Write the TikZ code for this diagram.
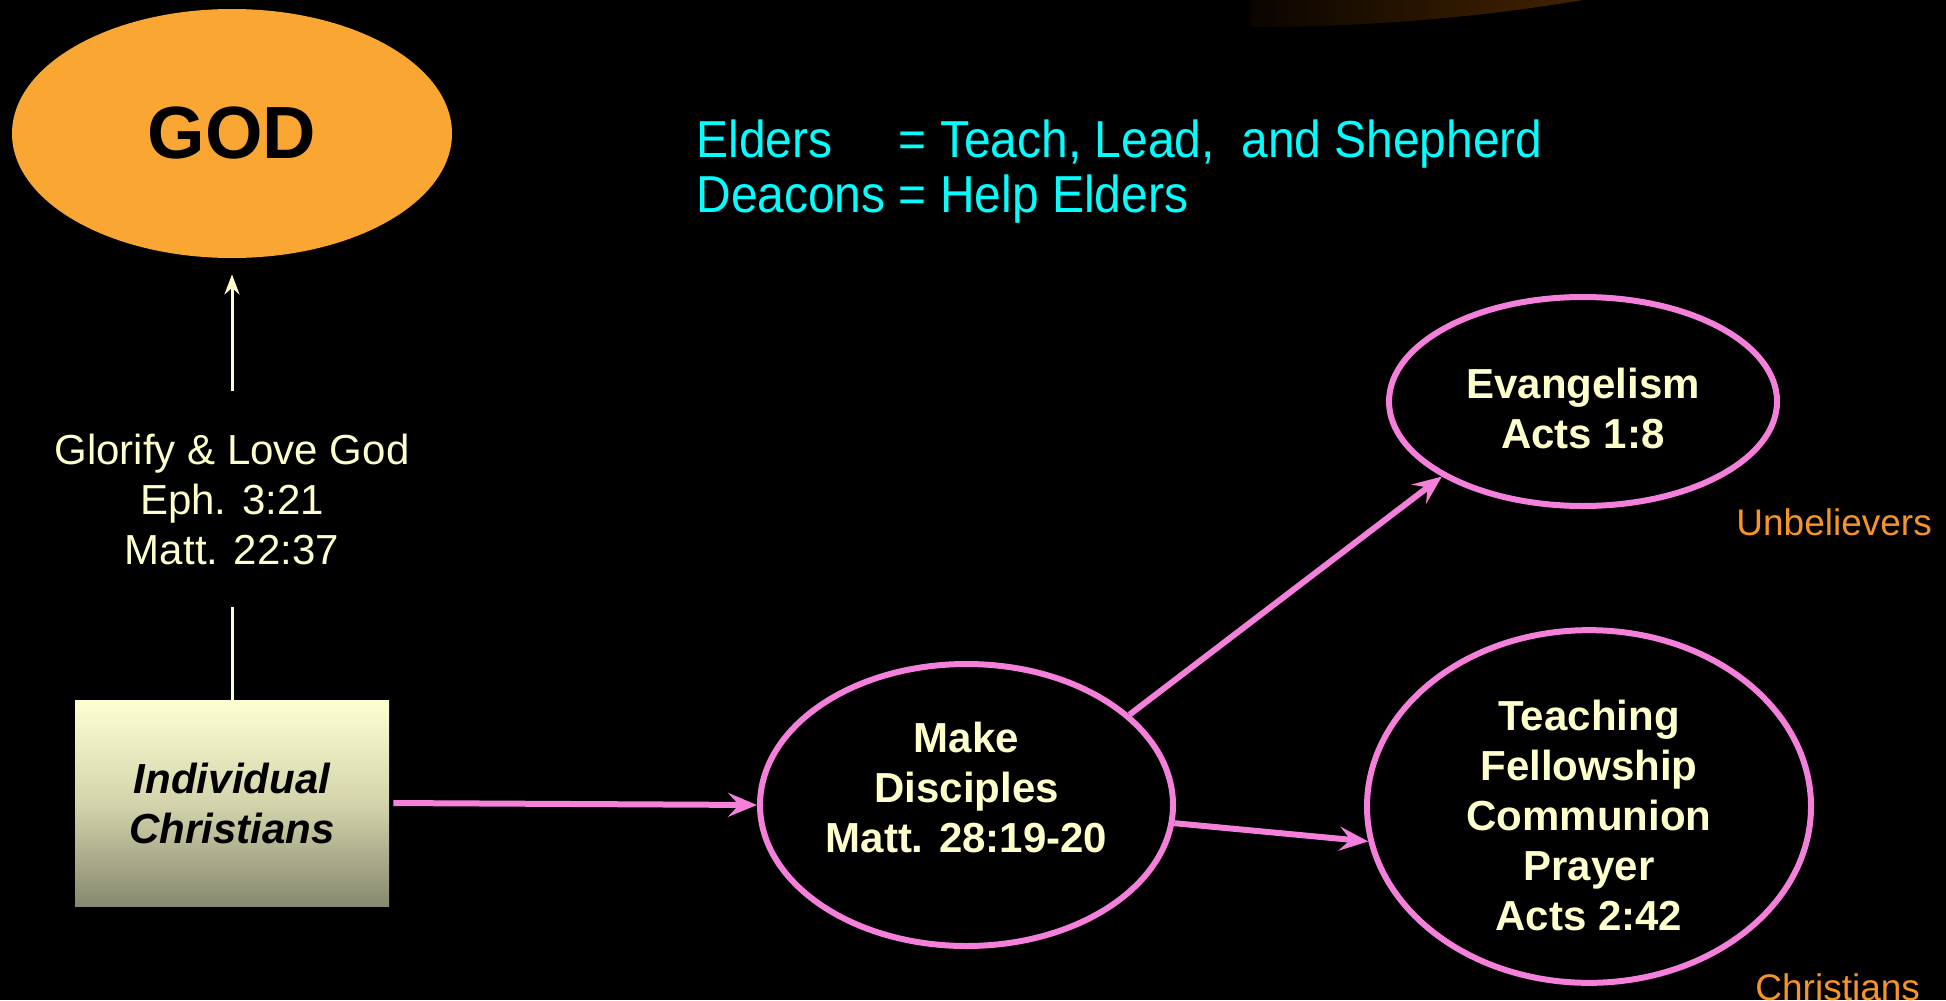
\documentclass[tikz,border=0pt]{standalone}
\usepackage{fontspec}
\setmainfont{Liberation Sans}
\newfontfamily\narrowfont[FakeStretch=0.922]{Liberation Sans}
\usetikzlibrary{shapes.geometric,arrows.meta}
\definecolor{godorange}{RGB}{249,166,51}
\definecolor{cream}{RGB}{255,255,204}
\definecolor{pinkline}{RGB}{245,128,220}
\definecolor{aqua}{RGB}{0,255,255}
\definecolor{lblorange}{RGB}{245,148,40}
\definecolor{boxtop}{RGB}{255,255,212}
\definecolor{boxmid}{RGB}{212,212,172}
\definecolor{boxbot}{RGB}{136,136,112}
\definecolor{glowdark}{RGB}{10,4,0}
\definecolor{glowlight}{RGB}{70,37,0}
\tikzset{
  godell/.style={ellipse, fill=godorange, minimum width=220pt, minimum height=124.5pt, inner sep=0pt,
    font=\fontsize{37pt}{40pt}\selectfont\bfseries, text=black},
  gtext/.style={align=center, inner xsep=0pt, inner ysep=21pt, text=cream,
    font=\fontsize{21pt}{25pt}\selectfont},
  ibox/.style={rectangle, minimum width=157pt, minimum height=103pt, inner sep=0pt,
    top color=boxtop, bottom color=boxbot, middle color=boxmid, align=center,
    font=\fontsize{21pt}{25pt}\selectfont\bfseries\itshape, text=black},
  pinkell/.style={ellipse, draw=pinkline, line width=3pt, inner sep=0pt, align=center, text=cream,
    font=\fontsize{21pt}{25pt}\selectfont\bfseries},
  creamline/.style={draw=cream, line width=1.5pt},
  pinkarrow/.style={draw=pinkline, line width=3pt, -{Stealth[length=14.5pt,width=12pt,inset=5.5pt]}},
  lbl/.style={text=lblorange, inner sep=0pt, font=\fontsize{18.5pt}{22pt}\selectfont},
  office/.style={text=aqua, inner sep=0pt, font=\narrowfont\fontsize{26pt}{27.5pt}\selectfont}
}
\begin{document}
\begin{tikzpicture}[x=0.5pt,y=-0.5pt]
\useasboundingbox (0,0) rectangle (1946,1000);
\fill[black] (0,0) rectangle (1946,1000);
% dim glow at the top
\begin{scope}
  \clip (1249,0) rectangle (1946,60);
  \clip (1249,-270) ellipse [x radius=800, y radius=297];
  \shade[left color=glowdark, right color=glowlight] (1249,-5) rectangle (1600,40);
\end{scope}

\node[godell] (god) at (232,133.5) {GOD};
\node[gtext] (glor) at (232,499) {Glorify \& Love God\\Eph. 3:21\\Matt. 22:37};
\node[ibox] (ind) at (232,803) {Individual\\Christians};

\node[pinkell, minimum width=206.5pt, minimum height=141pt, text depth=18pt] (make) at (966.5,805)
  {Make\\Disciples\\Matt. 28:19-20};
\node[pinkell, minimum width=194pt, minimum height=104.5pt, text height=47.5pt] (evan) at (1583,401.5)
  {Evangelism\\Acts 1:8};
\node[pinkell, minimum width=222pt, minimum height=173.5pt, text height=124.5pt] (teach) at (1589,806.5)
  {Teaching\\Fellowship\\Communion\\Prayer\\Acts 2:42};

\node[office, anchor=base west] (offices) at (696,158)
  {\begin{tabular}[t]{@{}l@{}l@{}}Elders & = Teach, Lead,\ \ and Shepherd\\ \mbox{Deacons\ } & = Help Elders\end{tabular}};

\node[lbl, anchor=base west] (unb) at (1736,535) {Unbelievers};
\node[lbl, anchor=base west] (chr) at (1755,1000) {Christians};

\draw[creamline] (ind.north) -- (glor.south);
\draw[creamline, -{Stealth[length=10pt,width=7.5pt]}, shorten >=8pt] (glor.north) -- (god.south);
\draw[pinkarrow, shorten <=2pt] (ind.east) -- (make.west);
\draw[pinkarrow] (make.29) -- (evan.208);
\draw[pinkarrow] (make.355) -- (teach.189);
\end{tikzpicture}
\end{document}
